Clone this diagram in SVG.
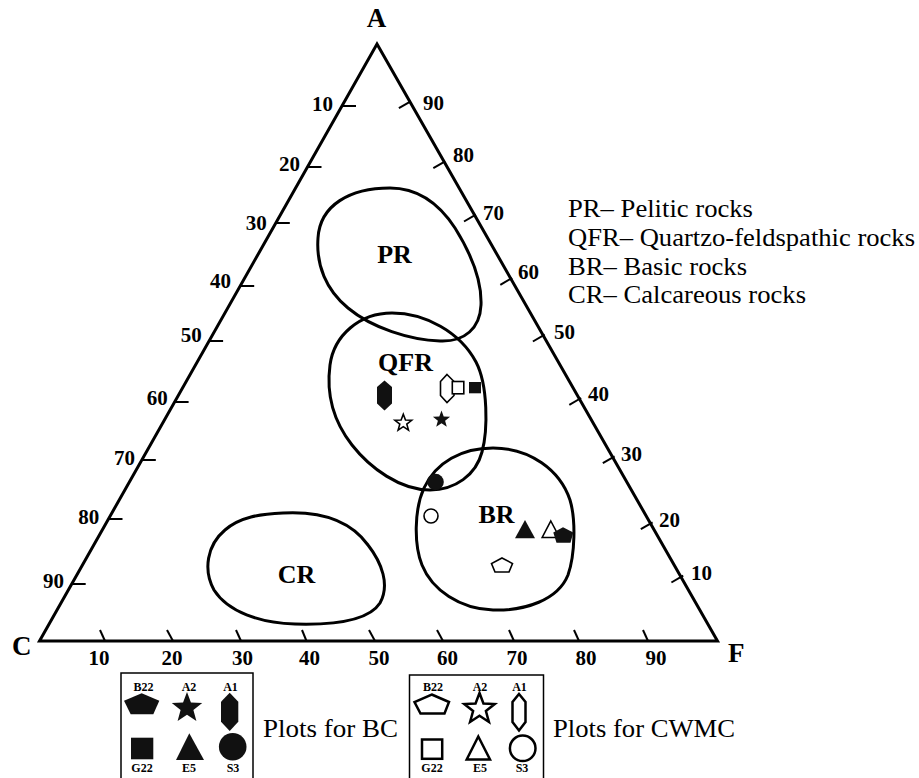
<svg xmlns="http://www.w3.org/2000/svg" width="919" height="778" viewBox="0 0 919 778">
<style>
  .ax { fill: none; stroke: #000; stroke-width: 3; stroke-linejoin: miter; }
  .tk { stroke: #000; stroke-width: 2; fill: none; }
  .rg { fill: none; stroke: #000; stroke-width: 3; }
  .num { font-family: "Liberation Serif", "Times New Roman", serif; font-weight: bold; font-size: 21px; fill: #000; }
  .vx { font-family: "Liberation Serif", "Times New Roman", serif; font-weight: bold; font-size: 27px; fill: #000; }
  .rl { font-family: "Liberation Serif", "Times New Roman", serif; font-weight: bold; font-size: 26px; fill: #000; text-anchor: middle; }
  .lg { font-family: "Liberation Serif", "Times New Roman", serif; font-size: 26px; fill: #000; }
  .sm { font-family: "Liberation Serif", "Times New Roman", serif; font-weight: bold; font-size: 12px; fill: #000; text-anchor: middle; }
  .f { fill: #111; stroke: none; }
  .o { fill: #fff; stroke: #000; stroke-width: 1.6; }
  .ol { fill: #fff; stroke: #000; stroke-width: 2.5; }
  .box { fill: none; stroke: #000; stroke-width: 1.5; }
</style>

<g id="axes">
  <polygon class="ax" points="377,44 717.5,641 39.5,641"/>
  <text class="vx" x="376.5" y="27" text-anchor="middle">A</text>
  <text class="vx" x="12" y="655" font-size="28">C</text>
  <text class="vx" x="728" y="662" font-size="28">F</text>
</g>

<g id="ticks-left">
  <line class="tk" x1="342" y1="106" x2="356" y2="106"/>
  <line class="tk" x1="307.5" y1="167" x2="321.5" y2="167"/>
  <line class="tk" x1="275.8" y1="223" x2="289.8" y2="223"/>
  <line class="tk" x1="240.2" y1="286" x2="254.2" y2="286"/>
  <line class="tk" x1="209.1" y1="341" x2="223.1" y2="341"/>
  <line class="tk" x1="174.6" y1="402" x2="188.6" y2="402"/>
  <line class="tk" x1="141.8" y1="460" x2="155.8" y2="460"/>
  <line class="tk" x1="108.5" y1="519" x2="122.5" y2="519"/>
  <line class="tk" x1="71.7" y1="584" x2="85.7" y2="584"/>
  <text class="num" text-anchor="end" x="333" y="110.5">10</text>
  <text class="num" text-anchor="end" x="300" y="170.5">20</text>
  <text class="num" text-anchor="end" x="266.7" y="230">30</text>
  <text class="num" text-anchor="end" x="231" y="287.5">40</text>
  <text class="num" text-anchor="end" x="201.7" y="342">50</text>
  <text class="num" text-anchor="end" x="167.7" y="405">60</text>
  <text class="num" text-anchor="end" x="135" y="464.5">70</text>
  <text class="num" text-anchor="end" x="99.3" y="524">80</text>
  <text class="num" text-anchor="end" x="64" y="587.5">90</text>
</g>

<g id="ticks-right">
  <line class="tk" x1="398.9" y1="108.2" x2="410.7" y2="101.4"/>
  <line class="tk" x1="433.3" y1="168.2" x2="445.1" y2="161.4"/>
  <line class="tk" x1="464" y1="221.5" x2="475.8" y2="214.7"/>
  <line class="tk" x1="500.3" y1="284.8" x2="512.1" y2="278"/>
  <line class="tk" x1="532.9" y1="341.5" x2="544.7" y2="334.7"/>
  <line class="tk" x1="569.3" y1="404.8" x2="581.1" y2="398"/>
  <line class="tk" x1="602.8" y1="463.2" x2="614.6" y2="456.4"/>
  <line class="tk" x1="640.8" y1="529.2" x2="652.6" y2="522.4"/>
  <line class="tk" x1="671.4" y1="582.5" x2="683.2" y2="575.7"/>
  <text class="num" x="423" y="110">90</text>
  <text class="num" x="453" y="162">80</text>
  <text class="num" x="483" y="220">70</text>
  <text class="num" x="518" y="279">60</text>
  <text class="num" x="554" y="339">50</text>
  <text class="num" x="588" y="401">40</text>
  <text class="num" x="621" y="461">30</text>
  <text class="num" x="659" y="527">20</text>
  <text class="num" x="691" y="580">10</text>
</g>

<g id="ticks-bottom">
  <line class="tk" x1="100" y1="630" x2="105" y2="641"/>
  <line class="tk" x1="167" y1="630" x2="173" y2="641"/>
  <line class="tk" x1="236" y1="630" x2="241" y2="641"/>
  <line class="tk" x1="302" y1="630" x2="306.5" y2="641"/>
  <line class="tk" x1="369" y1="630" x2="375" y2="641"/>
  <line class="tk" x1="437" y1="630" x2="443" y2="641"/>
  <line class="tk" x1="509" y1="630" x2="514" y2="641"/>
  <line class="tk" x1="574" y1="630" x2="579" y2="641"/>
  <line class="tk" x1="643" y1="630" x2="648" y2="641"/>
  <text class="num" text-anchor="middle" x="99" y="665">10</text>
  <text class="num" text-anchor="middle" x="172" y="665">20</text>
  <text class="num" text-anchor="middle" x="242.5" y="665">30</text>
  <text class="num" text-anchor="middle" x="309.5" y="665">40</text>
  <text class="num" text-anchor="middle" x="379" y="665">50</text>
  <text class="num" text-anchor="middle" x="447.5" y="665">60</text>
  <text class="num" text-anchor="middle" x="517" y="665">70</text>
  <text class="num" text-anchor="middle" x="586" y="665">80</text>
  <text class="num" text-anchor="middle" x="656" y="665">90</text>
</g>

<g id="region-PR">
  <path class="rg" d="M390,188 C420,188 440,205 455,228 C470,252 482,280 481,305 C480,328 465,342 440,341 C410,340 372,328 348,308 C326,290 316,265 318,238 C320,205 350,188 390,188 Z"/>
  <text class="rl" x="394.5" y="263">PR</text>
</g>
<g id="region-QFR">
  <path class="rg" d="M392,313 C425,313 460,332 476,362 C488,385 488,430 482,452 C476,475 455,490 430,490 C400,490 370,468 352,445 C334,422 326,395 330,365 C334,335 360,313 392,313 Z"/>
  <text class="rl" x="405.5" y="371">QFR</text>
</g>
<g id="region-BR">
  <path class="rg" d="M493,448 C530,448 560,470 570,500 C576,520 575,555 568,575 C558,600 525,611 493,610 C460,609 432,590 422,565 C414,545 414,510 424,488 C436,462 462,448 493,448 Z"/>
  <text class="rl" x="496.5" y="523">BR</text>
</g>
<g id="region-CR">
  <path class="rg" d="M283,513 C320,511 350,520 368,545 C382,563 390,585 380,603 C368,622 330,625 295,624 C260,623 228,612 214,590 C203,570 207,545 225,530 C240,517 260,514 283,513 Z"/>
  <text class="rl" x="296.5" y="583">CR</text>
</g>

<g id="points">
  <polygon id="p-A1-BC" class="f" points="384.5,380.5 392,387 392,403.5 384.5,410.5 377,403.5 377,387"/>
  <polygon id="p-A1-CWMC" class="o" points="447,374.5 454,381.5 454,395.5 447,402.5 440.5,395.5 440.5,381.5"/>
  <rect id="p-G22-CWMC" class="o" x="452.3" y="381.5" width="11.5" height="12.3"/>
  <rect id="p-G22-BC" class="f" x="469" y="382" width="12" height="11.3"/>
  <polygon id="p-A2-CWMC" class="o" points="403.3,414.2 405.5,420 411.7,420.3 406.8,424.1 408.5,430.1 403.3,426.7 398.1,430.1 399.8,424.1 394.9,420.3 401.1,420"/>
  <polygon id="p-A2-BC" class="f" points="441.5,410.5 443.7,416.4 450.1,416.7 445.1,420.7 446.8,426.8 441.5,423.3 436.2,426.8 437.9,420.7 432.9,416.7 439.3,416.4"/>
  <circle id="p-S3-BC" class="f" cx="435.5" cy="482" r="8.3"/>
  <circle id="p-S3-CWMC" class="o" cx="431" cy="516" r="7"/>
  <polygon id="p-E5-BC" class="f" points="525,520 535,538.3 515,538.3"/>
  <polygon id="p-E5-CWMC" class="o" points="550.8,521 559.5,537.5 542.2,537.5"/>
  <polygon id="p-B22-BC" class="f" points="563,527.3 573.3,532.5 570.5,542.7 556.5,542.7 553.3,532.5"/>
  <polygon id="p-B22-CWMC" class="o" points="502,558 512.5,563.5 509,572 495,572 491.5,563.5"/>
</g>

<g id="legend-rocks">
  <text class="lg" x="568" y="217" textLength="185" lengthAdjust="spacingAndGlyphs">PR– Pelitic rocks</text>
  <text class="lg" x="568" y="245.5" textLength="347" lengthAdjust="spacingAndGlyphs">QFR– Quartzo-feldspathic rocks</text>
  <text class="lg" x="568" y="274.5" textLength="179" lengthAdjust="spacingAndGlyphs">BR– Basic rocks</text>
  <text class="lg" x="568" y="303" textLength="238" lengthAdjust="spacingAndGlyphs">CR– Calcareous rocks</text>
</g>

<g id="legend-BC">
  <rect class="box" x="121" y="673" width="132" height="112"/>
  <text class="sm" x="143.5" y="691">B22</text>
  <text class="sm" x="189" y="691">A2</text>
  <text class="sm" x="230.5" y="691">A1</text>
  <polygon class="f" points="141.7,693.3 159.3,700.7 153.3,714.3 130.7,714.3 124,700.7"/>
  <polygon class="f" points="187,692 190.95,702.56 202.22,703.06 193.4,710.08 196.4,720.94 187,714.72 177.6,720.94 180.6,710.08 171.78,703.06 183.05,702.56"/>
  <polygon class="f" points="229.7,692.7 238.3,701.7 238.3,721.7 229.7,731 221,721.7 221,701.7"/>
  <rect class="f" x="131" y="737.7" width="22.3" height="21.6"/>
  <polygon class="f" points="189.3,733.3 204,760 176,760"/>
  <circle class="f" cx="232.7" cy="746.7" r="13.8"/>
  <text class="sm" x="142" y="772">G22</text>
  <text class="sm" x="189" y="772">E5</text>
  <text class="sm" x="233" y="772">S3</text>
  <text class="lg" x="263" y="737" textLength="135" lengthAdjust="spacingAndGlyphs">Plots for BC</text>
</g>

<g id="legend-CWMC">
  <rect class="box" x="409.5" y="675" width="134" height="112"/>
  <text class="sm" x="433" y="691">B22</text>
  <text class="sm" x="480" y="691">A2</text>
  <text class="sm" x="519.5" y="691">A1</text>
  <polygon class="ol" points="431.7,694.5 449,702 444.5,713.5 420.5,713.5 414.5,702"/>
  <polygon class="ol" points="479.5,693 483.45,703.56 494.72,704.06 485.9,711.08 488.9,721.94 479.5,715.72 470.1,721.94 473.1,711.08 464.28,704.06 475.55,703.56"/>
  <polygon class="ol" points="519,694 525.5,702 525.5,722 519,730.5 512.5,722 512.5,702"/>
  <rect class="ol" x="422" y="739.5" width="20.2" height="19.3"/>
  <polygon class="ol" points="478.3,736.5 490,759.5 466.7,759.5"/>
  <circle class="ol" cx="522.7" cy="748.3" r="12.8"/>
  <text class="sm" x="432" y="772">G22</text>
  <text class="sm" x="480" y="772">E5</text>
  <text class="sm" x="522" y="772">S3</text>
  <text class="lg" x="553" y="737" textLength="182" lengthAdjust="spacingAndGlyphs">Plots for CWMC</text>
</g>
</svg>
